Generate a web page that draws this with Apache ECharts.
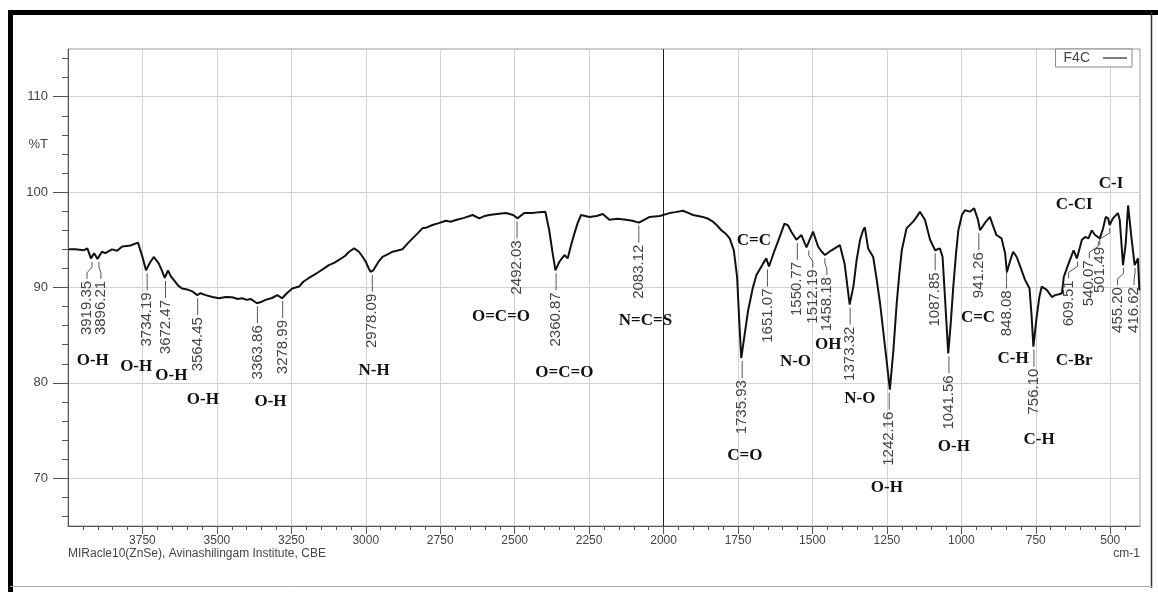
<!DOCTYPE html>
<html>
<head>
<meta charset="utf-8">
<title>F4C FTIR</title>
<script src="https://cdn.jsdelivr.net/npm/echarts@6/dist/echarts.min.js"></script>
<style>
  html, body { margin: 0; padding: 0; background: #fff; }
  #chart { width: 1158px; height: 600px; }
</style>
</head>
<body>
<div id="chart"></div>
<script>
// spectrum trace: wavenumber (cm-1) and %T
const specWn = [3998, 3975, 3948, 3935, 3923, 3912, 3901, 3886, 3875, 3852, 3835, 3818, 3790, 3765, 3750, 3738, 3725, 3712, 3695, 3685,
  3675, 3664, 3655, 3645, 3630, 3617, 3600, 3583, 3566, 3555, 3538, 3515, 3493, 3470, 3449, 3430, 3415, 3400, 3387, 3365,
  3350, 3337, 3315, 3297, 3281, 3265, 3247, 3224, 3210, 3191, 3175, 3157, 3140, 3124, 3105, 3090, 3070, 3056, 3039, 3023,
  3010, 3000, 2990, 2984, 2975, 2967, 2955, 2944, 2925, 2910, 2890, 2877, 2860, 2843, 2825, 2810, 2795, 2776, 2755, 2731,
  2715, 2697, 2670, 2641, 2619, 2600, 2585, 2560, 2529, 2505, 2490, 2468, 2440, 2417, 2397, 2384, 2372, 2363, 2350, 2340,
  2333, 2322, 2310, 2299, 2288, 2277, 2249, 2225, 2204, 2182, 2155, 2126, 2105, 2083, 2065, 2047, 2013, 1980, 1960, 1935,
  1915, 1901, 1868, 1850, 1834, 1820, 1806, 1790, 1778, 1764, 1753, 1745, 1739, 1728, 1716, 1700, 1688, 1666, 1655, 1646,
  1627, 1610, 1594, 1582, 1570, 1554, 1537, 1520, 1498, 1481, 1470, 1458, 1436, 1420, 1408, 1392, 1375, 1362, 1352, 1340,
  1330, 1324, 1313, 1296, 1285, 1273, 1257, 1240, 1228, 1217, 1208, 1200, 1184, 1162, 1150, 1139, 1122, 1105, 1088, 1072,
  1063, 1055, 1044, 1035, 1027, 1018, 1010, 998, 988, 971, 957, 945, 937, 920, 904, 893, 882, 865, 853, 847,
  836, 826, 814, 800, 786, 771, 764, 758, 747, 738, 730, 713, 696, 685, 672, 662, 656, 640, 623, 612,
  595, 584, 573, 562, 551, 535, 524, 515, 507, 502, 491, 474, 468, 457, 448, 440, 429, 418, 413, 407, 402];
const specT = [94.0, 94.0, 93.9, 94.1, 93.05, 93.6, 93.0, 93.75, 93.6, 94.0, 93.85, 94.3, 94.4, 94.7, 93.2, 91.8, 92.6, 93.2, 92.5, 91.8,
  91.0, 91.8, 91.2, 90.8, 90.2, 89.9, 89.8, 89.6, 89.2, 89.4, 89.2, 89.0, 88.87, 89.0, 88.97, 88.8, 88.87, 88.7, 88.8, 88.35,
  88.5, 88.7, 88.9, 89.2, 88.87, 89.4, 89.9, 90.1, 90.6, 91.0, 91.3, 91.65, 92.0, 92.35, 92.6, 92.9, 93.3, 93.75, 94.1, 93.75,
  93.2, 92.7, 92.0, 91.65, 91.8, 92.2, 92.8, 93.2, 93.5, 93.75, 93.9, 94.0, 94.6, 95.15, 95.7, 96.2, 96.3, 96.55, 96.75, 97.0,
  96.9, 97.07, 97.3, 97.6, 97.25, 97.5, 97.6, 97.7, 97.8, 97.6, 97.25, 97.8, 97.8, 97.9, 97.95, 96.0, 93.5, 91.8, 92.7, 93.1,
  93.4, 93.05, 94.5, 95.7, 96.8, 97.6, 97.4, 97.5, 97.7, 97.1, 97.2, 97.1, 97.0, 96.8, 97.1, 97.4, 97.5, 97.8, 97.9, 98.05,
  97.8, 97.6, 97.4, 97.2, 96.9, 96.5, 96.0, 95.6, 95.15, 93.9, 91.1, 86.0, 82.6, 85.0, 87.6, 90.0, 91.3, 92.5, 93.05, 92.2,
  93.9, 95.3, 96.7, 96.5, 95.8, 95.0, 95.5, 94.2, 95.85, 94.3, 93.8, 93.4, 93.9, 94.2, 94.45, 92.5, 88.2, 90.2, 92.8, 95.0,
  96.0, 96.3, 94.1, 93.2, 91.0, 88.35, 84.0, 79.3, 83.5, 88.35, 91.5, 93.9, 96.2, 96.9, 97.4, 97.95, 97.07, 95.0, 93.9, 94.1,
  93.2, 89.0, 83.1, 86.5, 90.1, 93.5, 96.0, 97.6, 98.1, 97.95, 98.3, 97.2, 96.0, 96.8, 97.4, 96.4, 95.5, 95.15, 93.6, 91.6,
  92.8, 93.75, 93.2, 92.0, 90.8, 89.9, 87.0, 83.8, 86.95, 89.0, 90.1, 89.75, 89.0, 89.2, 89.3, 89.4, 91.1, 92.5, 93.9, 93.05,
  95.0, 95.3, 95.15, 96.0, 95.5, 95.15, 96.2, 97.4, 97.25, 96.55, 97.25, 97.8, 97.07, 92.35, 94.6, 98.6, 95.3, 92.35, 92.2, 93.05, 89.7];

// picked peaks: label text, wavenumber, %T where the leader starts
const peakText = ['3919.35', '3896.21', '3734.19', '3672.47', '3564.45', '3363.86', '3278.99', '2978.09', '2492.03', '2360.87',
  '2083.12', '1735.93', '1651.07', '1550.77', '1512.19', '1458.18', '1373.32', '1242.16', '1087.85', '1041.56',
  '941.26', '848.08', '756.10', '609.51', '540.07', '501.49', '455.20', '416.62'];
const peakWn = [3919.35, 3896.21, 3734.19, 3672.47, 3564.45, 3363.86, 3278.99, 2978.09, 2492.03, 2360.87,
  2083.12, 1735.93, 1651.07, 1550.77, 1512.19, 1458.18, 1373.32, 1242.16, 1087.85, 1041.56,
  941.26, 848.08, 756.10, 609.51, 540.07, 501.49, 455.20, 416.62];
const peakT = [93.0, 93.0, 91.8, 91.0, 89.2, 88.35, 88.9, 91.65, 97.25, 91.8,
  96.8, 82.6, 92.2, 95.0, 94.2, 93.4, 88.2, 79.3, 93.9, 83.1,
  96.0, 92.0, 83.8, 93.05, 95.15, 96.55, 92.35, 92.35];
// sideways nudge of crowded peak labels (px)
const peakNudge = [-5, 2, 0, 0, 0, 0, 0, 0, 0, 0,
  0, 0, 0, 0, 4, 2, 0, 0, 0, 0,
  0, 0, 0, -9, -9, -10, -6, -1];

// functional group notes: text, centre wavenumber, centre %T
const groupText = ['O-H', 'O-H', 'O-H', 'O-H', 'O-H', 'N-H', 'O=C=O', 'O=C=O', 'N=C=S', 'C=C', 'C=O',
  'N-O', 'OH', 'N-O', 'O-H', 'O-H', 'C=C', 'C-H', 'C-H', 'C-Br', 'C-CI', 'C-I'];
const groupWn = [3917, 3771, 3653, 3547, 3320, 2972, 2546, 2333, 2061, 1697, 1727,
  1557, 1447, 1341, 1250, 1025, 944, 826, 739, 621, 621, 497];
const groupT = [82.3, 81.7, 80.8, 78.3, 78.0, 81.3, 86.9, 81.1, 86.5, 94.9, 72.4,
  82.2, 84.0, 78.4, 69.0, 73.3, 86.8, 82.5, 74.1, 82.3, 98.7, 100.9];

// axis ticks
const xMajorTicks = [500, 750, 1000, 1250, 1500, 1750, 2000, 2250, 2500, 2750, 3000, 3250, 3500, 3750];
const xMinorTicks = [450, 500, 550, 600, 650, 700, 750, 800, 850, 900, 950, 1000, 1050, 1100, 1150, 1200, 1250, 1300, 1350,
  1400, 1450, 1500, 1550, 1600, 1650, 1700, 1750, 1800, 1850, 1900, 1950, 2000, 2050, 2100, 2150, 2200, 2250, 2300, 2350,
  2400, 2450, 2500, 2550, 2600, 2650, 2700, 2750, 2800, 2850, 2900, 2950, 3000, 3050, 3100, 3150, 3200, 3250, 3300, 3350,
  3400, 3450, 3500, 3550, 3600, 3650, 3700, 3750, 3800, 3850, 3900, 3950];
const yMajorTicks = [70, 80, 90, 100, 110];
const yLabelValues = [70, 80, 90, 100, 105, 110];
const yMinorTicks = [66, 68, 70, 72, 74, 76, 78, 80, 82, 84, 86, 88, 90, 92, 94, 96, 98, 100, 102, 104, 106, 108, 110, 112, 114];

const spectrum = specWn.map((w, i) => [w, specT[i]]);
const peaks = peakWn.map((w, i) => [w, peakT[i]]);
const groups = groupWn.map((w, i) => [w, groupT[i]]);

const axisGrey = '#555';
const gridGrey = '#d2d2d2';
const sans = '"Liberation Sans", Arial, sans-serif';

function renderPeak(params, api) {
  const p = api.coord([api.value(0), api.value(1)]);
  const tx = p[0] + peakNudge[params.dataIndex];
  return {
    type: 'group',
    children: [
      {
        type: 'polyline',
        shape: { points: [[p[0], p[1] + 3], [p[0], p[1] + 8], [tx, p[1] + 14], [tx, p[1] + 20]] },
        style: { stroke: '#555', lineWidth: 1, fill: null }
      },
      {
        type: 'text',
        x: tx,
        y: p[1] + 22,
        rotation: Math.PI / 2,
        style: {
          text: peakText[params.dataIndex],
          fill: '#444',
          font: '15px ' + sans,
          align: 'right', verticalAlign: 'middle',
          textAlign: 'right', textVerticalAlign: 'middle'
        }
      }
    ]
  };
}

function renderGroup(params, api) {
  const p = api.coord([api.value(0), api.value(1)]);
  return {
    type: 'text',
    x: p[0],
    y: p[1],
    style: {
      text: groupText[params.dataIndex],
      fill: '#111',
      font: 'bold 17px "Liberation Serif", "Times New Roman", serif',
      align: 'center', verticalAlign: 'middle',
      textAlign: 'center', textVerticalAlign: 'middle'
    }
  };
}

const chart = echarts.init(document.getElementById('chart'), null, { renderer: 'canvas' });

const option = {
  animation: false,
  backgroundColor: '#fff',
  grid: { left: 68, right: 18, top: 49, bottom: 74, show: true, borderColor: '#9a9a9a', borderWidth: 1, backgroundColor: 'transparent' },
  legend: {
    data: ['F4C'],
    right: 26,
    top: 49,
    align: 'right',
    icon: 'rect',
    itemWidth: 24,
    itemHeight: 1.5,
    padding: [2, 5, 2, 8],
    borderColor: '#888',
    borderWidth: 1,
    backgroundColor: '#fff',
    borderRadius: 0,
    textStyle: { color: '#444', fontSize: 14, fontFamily: sans, padding: [0, 8, 0, 0] },
    itemStyle: { color: '#555' }
  },
  xAxis: [
    {
      type: 'value',
      min: 400,
      max: 4000,
      inverse: true,
      position: 'bottom',
      axisLine: { show: true, lineStyle: { color: axisGrey, width: 1 } },
      axisTick: { show: true, length: 8, customValues: xMajorTicks, lineStyle: { color: axisGrey } },
      axisLabel: { customValues: xMajorTicks, color: '#444', fontSize: 12, fontFamily: sans, margin: 9, formatter: v => String(v) },
      splitLine: { show: true, lineStyle: { color: gridGrey, width: 1 } }
    },
    {
      type: 'value',
      min: 400,
      max: 4000,
      inverse: true,
      position: 'bottom',
      axisLine: { show: false },
      axisTick: { show: true, length: 4, customValues: xMinorTicks, lineStyle: { color: axisGrey } },
      axisLabel: { show: false },
      splitLine: { show: false }
    }
  ],
  yAxis: [
    {
      type: 'value',
      min: 65,
      max: 115,
      position: 'left',
      axisLine: { show: true, lineStyle: { color: axisGrey, width: 1 } },
      axisTick: { show: true, length: 15, customValues: yMajorTicks, lineStyle: { color: axisGrey } },
      axisLabel: {
        customValues: yLabelValues,
        color: '#444', fontSize: 13, fontFamily: sans, margin: 20,
        formatter: v => (v === 105 ? '%T' : String(v))
      },
      splitLine: { show: true, lineStyle: { color: gridGrey, width: 1 } }
    },
    {
      type: 'value',
      min: 65,
      max: 115,
      position: 'left',
      axisLine: { show: false },
      axisTick: { show: true, length: 6, customValues: yMinorTicks, lineStyle: { color: axisGrey } },
      axisLabel: { show: false },
      splitLine: { show: false }
    }
  ],
  series: [
    {
      name: 'F4C',
      type: 'line',
      data: spectrum,
      symbol: 'none',
      color: '#111',
      lineStyle: { color: '#111', width: 2 },
      z: 5,
      markLine: {
        silent: true,
        symbol: 'none',
        label: { show: false },
        lineStyle: { color: '#222', width: 1, type: 'solid' },
        data: [{ xAxis: 2000 }]
      }
    },
    {
      name: 'peaks',
      type: 'custom',
      data: peaks,
      renderItem: renderPeak,
      z: 6
    },
    {
      name: 'groups',
      type: 'custom',
      data: groups,
      renderItem: renderGroup,
      z: 7
    }
  ],
  graphic: [
    { type: 'text', left: 68, top: 548, style: { text: 'MIRacle10(ZnSe), Avinashilingam Institute, CBE', fill: '#444', font: '12px ' + sans } },
    { type: 'text', right: 18, top: 548, style: { text: 'cm-1', fill: '#444', font: '12px ' + sans } },
    // photo frame round the printout
    { type: 'line', shape: { x1: 10.5, y1: 10, x2: 10.5, y2: 592 }, style: { stroke: '#000', lineWidth: 5 } },
    { type: 'line', shape: { x1: 8, y1: 12.5, x2: 1158, y2: 12.5 }, style: { stroke: '#000', lineWidth: 5 } },
    { type: 'line', shape: { x1: 1151.5, y1: 12, x2: 1151.5, y2: 588 }, style: { stroke: '#333', lineWidth: 1.5 } },
    { type: 'line', shape: { x1: 10, y1: 586.5, x2: 1152, y2: 586.5 }, style: { stroke: '#aaa', lineWidth: 1 } }
  ]
};

chart.setOption(option);
</script>
</body>
</html>
